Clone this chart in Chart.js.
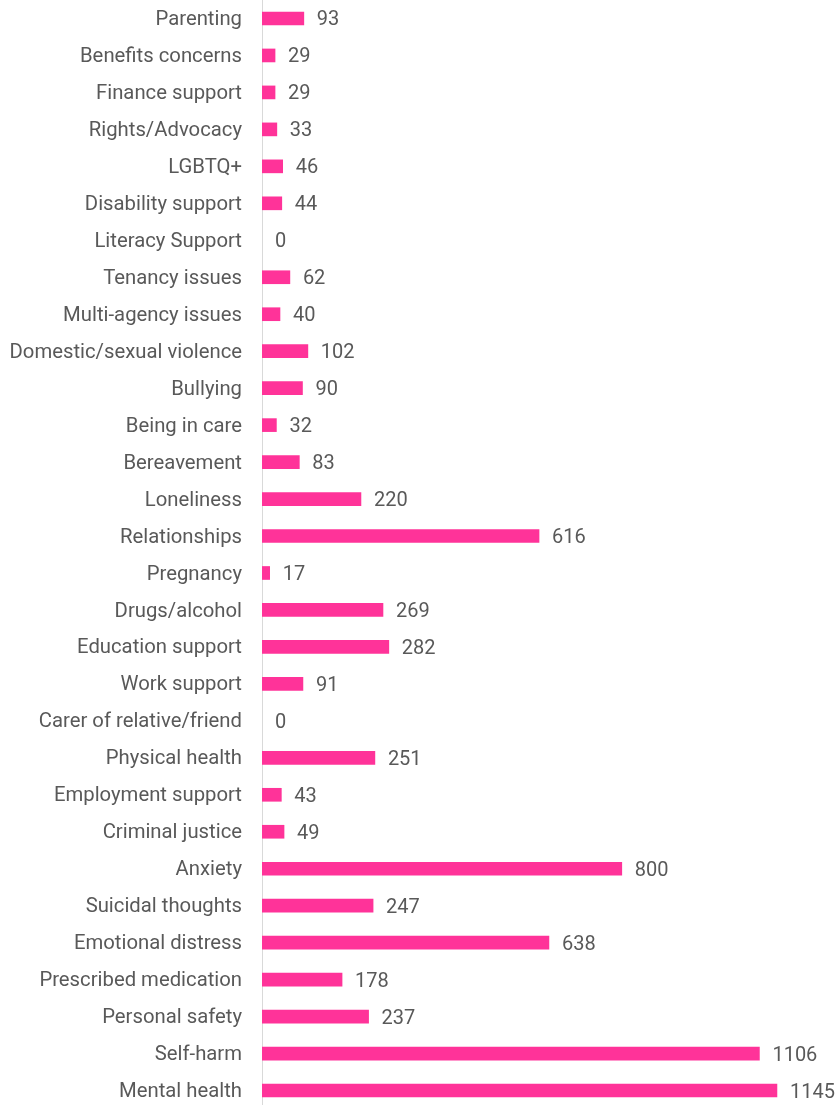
<!DOCTYPE html>
<html>
<head>
<meta charset="utf-8">
<script src="https://cdn.jsdelivr.net/npm/chart.js@4"></script>
<style>
  html, body { margin: 0; padding: 0; background: #fff; overflow: hidden; }
</style>
</head>
<body>
<canvas id="mychart" width="839" height="1109"></canvas>
<script>
// Issues raised, top row first
var issues = ['Parenting','Benefits concerns','Finance support','Rights/Advocacy','LGBTQ+',
  'Disability support','Literacy Support','Tenancy issues','Multi-agency issues',
  'Domestic/sexual violence','Bullying','Being in care','Bereavement','Loneliness',
  'Relationships','Pregnancy','Drugs/alcohol','Education support','Work support',
  'Carer of relative/friend','Physical health','Employment support','Criminal justice',
  'Anxiety','Suicidal thoughts','Emotional distress','Prescribed medication',
  'Personal safety','Self-harm','Mental health'];
// Number of contacts for each issue
var counts = [93,29,29,33,46,44,0,62,40,102,90,32,83,220,616,17,269,282,91,0,251,43,49,800,247,638,178,237,1106,1145];

var barColor = '#ff3399';
var textColor = '#595959';

// writes the count just past the end of each bar
var valueLabels = {
  id: 'valueLabels',
  afterDatasetsDraw: function(chart) {
    var ctx = chart.ctx;
    var meta = chart.getDatasetMeta(0);
    ctx.save();
    ctx.font = '20px Roboto';
    ctx.fillStyle = textColor;
    ctx.textAlign = 'left';
    ctx.textBaseline = 'middle';
    meta.data.forEach(function(bar, i) {
      ctx.fillText(counts[i], bar.x + 13, bar.y + 2);
    });
    ctx.restore();
  }
};

var ctx = document.getElementById('mychart');
var myChart = new Chart(ctx, {
  type: 'bar',
  data: {
    labels: issues,
    datasets: [{
      data: counts,
      backgroundColor: counts.map(function(v) { return v > 0 ? barColor : 'rgba(0,0,0,0)'; }),
      borderWidth: 0,
      barThickness: 13
    }]
  },
  options: {
    indexAxis: 'y',
    responsive: false,
    animation: false,
    layout: { padding: 0 },
    plugins: {
      legend: { display: false },
      tooltip: { enabled: false }
    },
    scales: {
      x: {
        display: false,
        min: 0,
        max: 1283
      },
      y: {
        afterFit: function(scale) {
          scale.width = 262;
          scale.paddingTop = 0;
          scale.paddingBottom = 0;
        },
        grid: { display: false, drawTicks: false },
        border: { display: true, color: '#d9d9d9', width: 1 },
        ticks: {
          padding: 20,
          labelOffset: 1.5,
          color: textColor,
          font: { family: 'Roboto', size: 20.3 }
        }
      }
    }
  },
  plugins: [valueLabels]
});
</script>
</body>
</html>
